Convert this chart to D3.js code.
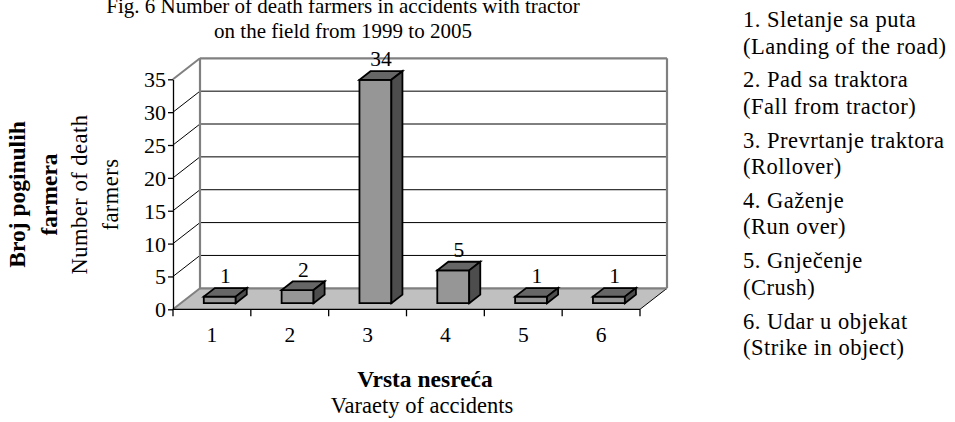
<!DOCTYPE html>
<html>
<head>
<meta charset="utf-8">
<script src="https://cdn.jsdelivr.net/npm/d3@7"></script>
<style>
  body { margin: 0; background: #fff; }
  svg text { font-family: "Liberation Serif", "Times New Roman", serif; fill: #000; }
</style>
</head>
<body>
<svg id="chart" width="955" height="422" style="font-family: 'Liberation Serif', serif;"></svg>
<script>
// data
var categories = ["1", "2", "3", "4", "5", "6"];
var values = [1, 2, 34, 5, 1, 1];
var yTicks = [0, 5, 10, 15, 20, 25, 30, 35];
var titleLines = ["Fig. 6 Number of death farmers in accidents with tractor", "on the field from 1999 to 2005"];
var legendNames = ["1. Sletanje sa puta", "2. Pad sa traktora", "3. Prevrtanje traktora", "4. Gaženje", "5. Gnječenje", "6. Udar u objekat"];
var legendEnglish = ["(Landing of the road)", "(Fall from tractor)", "(Rollover)", "(Run over)", "(Crush)", "(Strike in object)"];

var FONT = "'Liberation Serif', 'Times New Roman', serif";
var svg = d3.select("#chart");

// plot box (front plane) and depth offset of the 3d look
var plotLeft = 173, plotRight = 640, plotBottom = 309.3, plotTop = 79.3;
var DX = 27, DY = -21;
var tFront = 0.29, tBack = 0.70; // bar depth, fraction of the floor

var x = d3.scaleBand().domain(categories).range([plotLeft, plotRight]).paddingInner(0).paddingOuter(0);
var y = d3.scaleLinear().domain([0, 35]).range([plotBottom, plotTop]);
var barW = x.bandwidth() * 0.41;

var g = svg.append("g");

// floor
g.append("path")
  .attr("d", d3.line()([[plotLeft, plotBottom], [plotRight, plotBottom], [plotRight + DX, plotBottom + DY], [plotLeft + DX, plotBottom + DY]]) + "Z")
  .attr("fill", "#c0c0c0").attr("stroke", "none");
g.append("line").attr("x1", plotLeft).attr("y1", plotBottom).attr("x2", plotLeft + DX).attr("y2", plotBottom + DY)
  .attr("stroke", "#808080").attr("stroke-width", 2);
g.append("line").attr("x1", plotRight).attr("y1", plotBottom).attr("x2", plotRight + DX).attr("y2", plotBottom + DY)
  .attr("stroke", "#000").attr("stroke-width", 1);

// gridlines on back wall + diagonals on the (unfilled) side wall
yTicks.forEach(function(v) {
  var edge = (v === 0 || v === 35);
  var col = edge ? "#808080" : "#000";
  var w = edge ? 2.2 : 1;
  g.append("line")
    .attr("x1", plotLeft + DX).attr("y1", y(v) + DY)
    .attr("x2", plotRight + DX).attr("y2", y(v) + DY)
    .attr("stroke", col).attr("stroke-width", w);
  if (v > 0) {
    g.append("line")
      .attr("x1", plotLeft).attr("y1", y(v))
      .attr("x2", plotLeft + DX).attr("y2", y(v) + DY)
      .attr("stroke", col).attr("stroke-width", edge ? 2 : 1);
  }
});
// back wall side edges
[plotLeft + DX, plotRight + DX].forEach(function(px) {
  g.append("line").attr("x1", px).attr("y1", y(35) + DY).attr("x2", px).attr("y2", plotBottom + DY)
    .attr("stroke", "#808080").attr("stroke-width", 2.2);
});

// 3d bars
var bars = g.selectAll(".bar").data(values).enter().append("g").attr("class", "bar");
function face(d, i, which) {
  var cx = x(categories[i]) + x.bandwidth() / 2;
  var fx = cx + DX * tFront - barW / 2, fy = DY * tFront;
  var ddx = DX * (tBack - tFront), ddy = DY * (tBack - tFront);
  var y0 = y(0) + fy, y1 = y(d) + fy;
  var pts;
  if (which === "front") pts = [[fx, y0], [fx + barW, y0], [fx + barW, y1], [fx, y1]];
  if (which === "top") pts = [[fx, y1], [fx + barW, y1], [fx + barW + ddx, y1 + ddy], [fx + ddx, y1 + ddy]];
  if (which === "side") pts = [[fx + barW, y0], [fx + barW + ddx, y0 + ddy], [fx + barW + ddx, y1 + ddy], [fx + barW, y1]];
  return d3.line()(pts) + "Z";
}
[["front", "#969696"], ["top", "#666666"], ["side", "#4d4d4d"]].forEach(function(f) {
  bars.append("path")
    .attr("d", function(d, i) { return face(d, i, f[0]); })
    .attr("fill", f[1]).attr("stroke", "#000").attr("stroke-width", 1.8).attr("stroke-linejoin", "miter");
});

// value labels
g.selectAll(".val").data(values).enter().append("text")
  .attr("class", "val")
  .attr("x", function(d, i) { return x(categories[i]) + x.bandwidth() / 2 + DX * 0.5; })
  .attr("y", function(d) { return y(d) + DY * 0.5 - 9; })
  .attr("text-anchor", "middle").style("font-family", FONT).style("font-size", "21.5px")
  .text(function(d) { return d; });

// y axis
var yAxis = g.append("g").attr("transform", "translate(" + plotLeft + ",0)")
  .call(d3.axisLeft(y).tickValues(yTicks).tickSize(5).tickSizeOuter(0).tickPadding(2));
yAxis.select(".domain").attr("stroke", "#000").attr("stroke-width", 1.3);
yAxis.selectAll(".tick line").attr("stroke", "#000").attr("stroke-width", 1.3);
yAxis.selectAll(".tick text").style("font-size", "22px").style("font-family", FONT).attr("fill", "#000").attr("dy", "0.34em");

// x axis: line, boundary ticks, labels
g.append("line").attr("x1", plotLeft).attr("y1", plotBottom).attr("x2", plotRight).attr("y2", plotBottom)
  .attr("stroke", "#000").attr("stroke-width", 1.3);
var bounds = categories.map(function(c) { return x(c); }).concat([plotRight]);
g.selectAll(".xtick").data(bounds).enter().append("line")
  .attr("x1", function(d) { return d; }).attr("x2", function(d) { return d; })
  .attr("y1", plotBottom).attr("y2", plotBottom + 7)
  .attr("stroke", "#000").attr("stroke-width", 1.3);
g.selectAll(".xlab").data(categories).enter().append("text")
  .attr("x", function(d) { return x(d) + x.bandwidth() / 2; })
  .attr("y", 342).attr("text-anchor", "middle").style("font-family", FONT).style("font-size", "21.5px")
  .text(function(d) { return d; });

// title (first line runs off the top edge in the original)
svg.selectAll(".title").data(titleLines).enter().append("text")
  .attr("x", 343).attr("y", function(d, i) { return 13 + i * 25; })
  .attr("text-anchor", "middle").style("font-family", FONT).style("font-size", "21px")
  .text(function(d) { return d; });

// axis titles
svg.append("text").attr("x", 425).attr("y", 387).attr("text-anchor", "middle")
  .style("font-family", FONT).style("font-size", "23.5px").style("font-weight", "bold").text("Vrsta nesreća");
svg.append("text").attr("x", 422).attr("y", 413).attr("text-anchor", "middle")
  .style("font-family", FONT).style("font-size", "22.5px").text("Varaety of accidents");

var yTitle = [["Broj poginulih", true, 25], ["farmera", true, 57], ["Number of death", false, 87], ["farmers", false, 118]];
yTitle.forEach(function(t) {
  svg.append("text")
    .attr("transform", "translate(" + t[2] + ",194.5) rotate(-90)")
    .attr("text-anchor", "middle")
    .style("font-family", FONT).style("font-size", t[1] ? "23.5px" : "22.5px")
    .style("font-weight", t[1] ? "bold" : "normal")
    .style("letter-spacing", t[1] ? "0px" : "0.5px")
    .text(t[0]);
});

// legend on the right
var leg = svg.selectAll(".leg").data(legendNames).enter().append("g").attr("class", "leg")
  .attr("transform", function(d, i) { return "translate(743," + (27 + i * 60.3) + ")"; });
leg.append("text").style("font-family", FONT).style("font-size", "22.5px").style("letter-spacing", "0.5px")
  .text(function(d) { return d; });
leg.append("text").attr("y", 26.5).style("font-family", FONT).style("font-size", "22.5px").style("letter-spacing", "0.5px")
  .text(function(d, i) { return legendEnglish[i]; });
</script>
</body>
</html>
